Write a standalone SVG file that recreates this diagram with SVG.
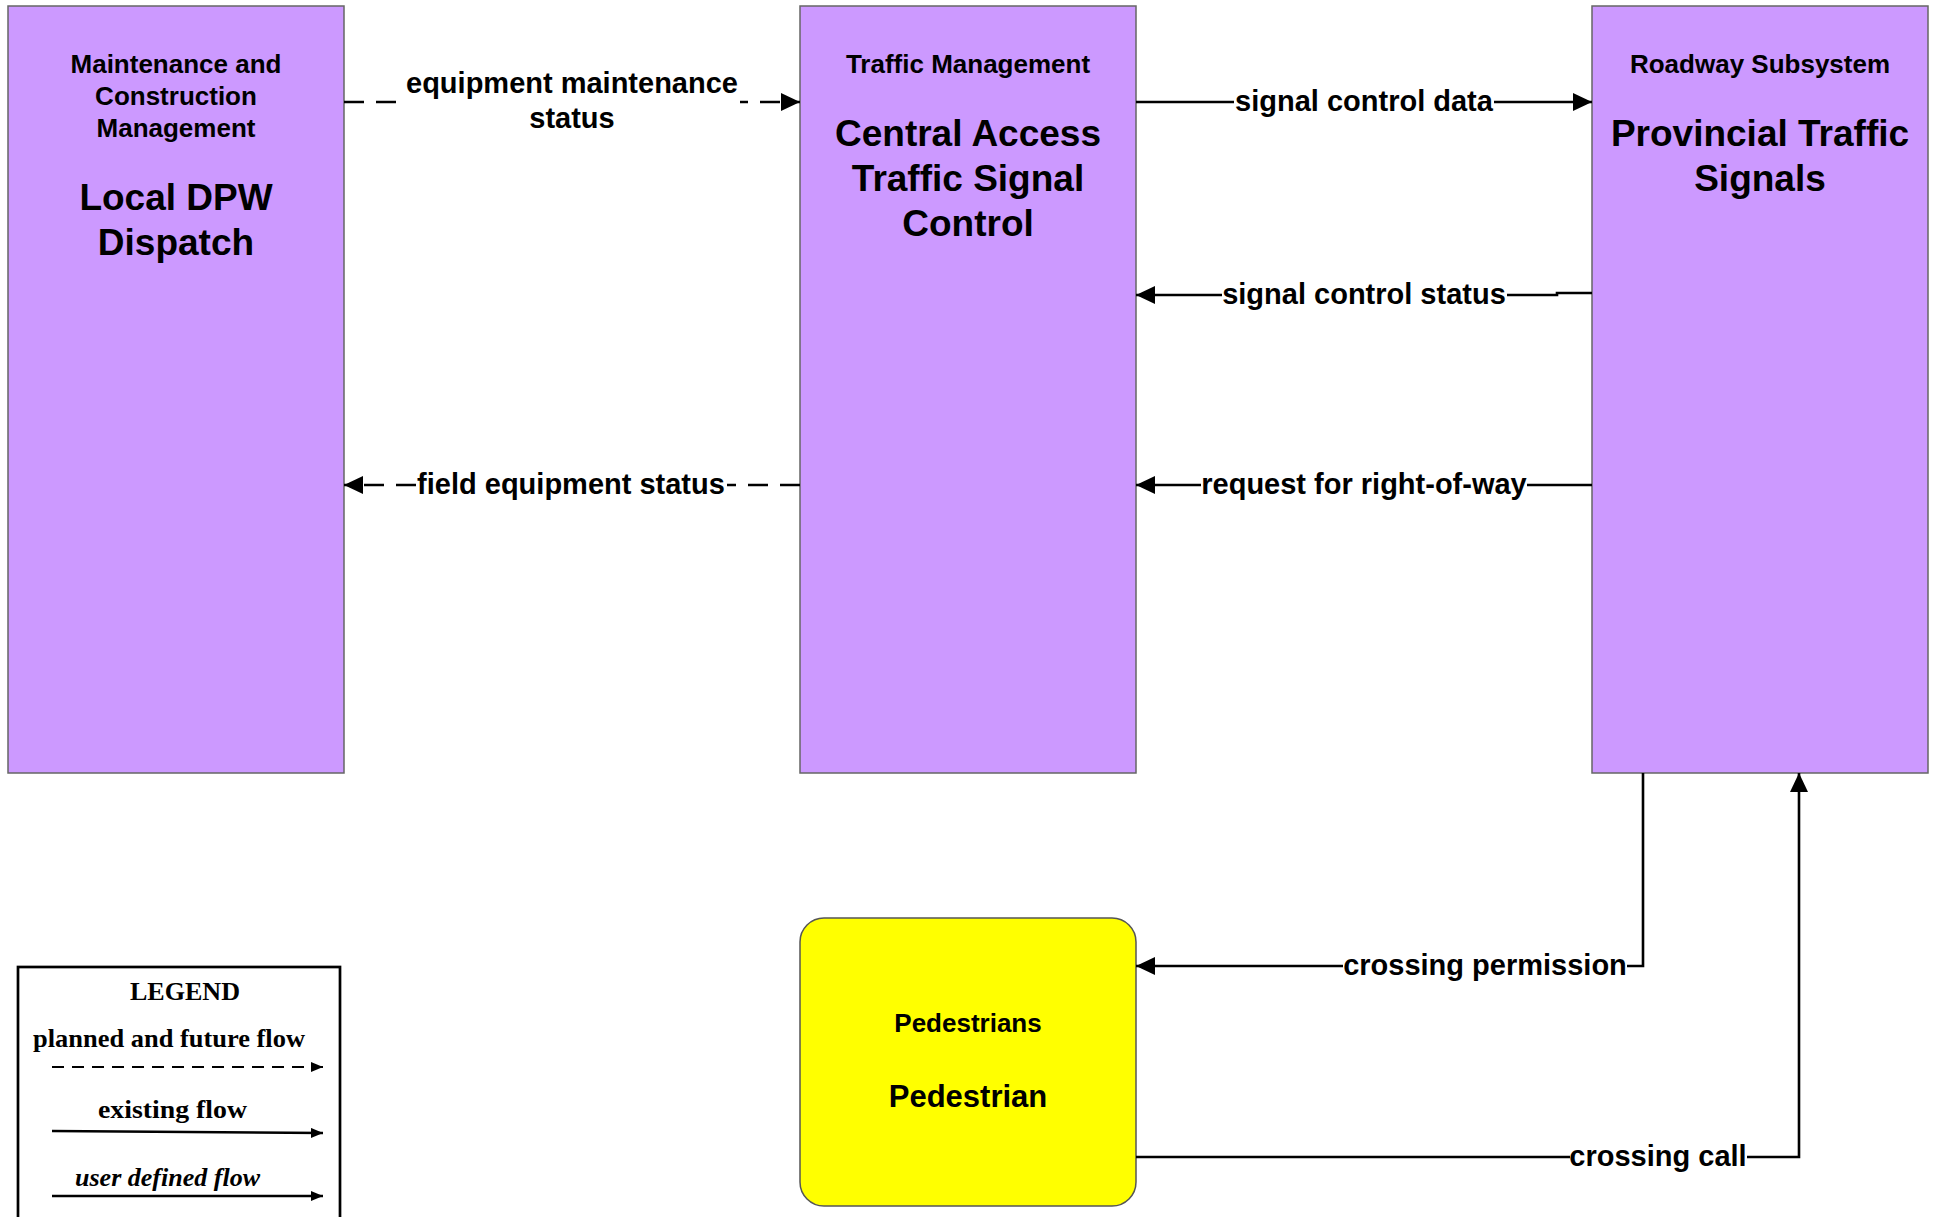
<svg xmlns="http://www.w3.org/2000/svg" width="1937" height="1217" viewBox="0 0 1937 1217">
<style>
.box{fill:#CC99FF;stroke:#666666;stroke-width:1.5}
.ped{fill:#FFFF00;stroke:#555555;stroke-width:1.5}
.hdr{font-family:"Liberation Sans",Arial,sans-serif;font-weight:bold;font-size:26px;text-anchor:middle;fill:#000}
.ttl{font-family:"Liberation Sans",Arial,sans-serif;font-weight:bold;font-size:37px;text-anchor:middle;fill:#000}
.lbl{font-family:"Liberation Sans",Arial,sans-serif;font-weight:bold;font-size:29px;text-anchor:middle;fill:#000}
.flow{fill:none;stroke:#000;stroke-width:2.6}
.dash{stroke-dasharray:20 12}
.bg{fill:#fff}
.leg{font-family:"Liberation Serif","Times New Roman",serif;font-weight:bold;font-size:26px;fill:#000}
</style>
<defs>
<marker id="arr" markerUnits="userSpaceOnUse" markerWidth="19" markerHeight="18" refX="19" refY="9" orient="auto">
<path d="M0,0 L19,9 L0,18 Z" fill="#000"/>
</marker>
<marker id="arrs" markerUnits="userSpaceOnUse" markerWidth="12" markerHeight="12" refX="12" refY="5" orient="auto">
<path d="M0,0 L12,5 L0,10 Z" fill="#000"/>
</marker>
</defs>
<rect width="1937" height="1217" fill="#fff"/>

<g id="node-local-dpw">
<rect class="box" x="8" y="6" width="336" height="767"/>
<text class="hdr" x="176" y="73">Maintenance and</text>
<text class="hdr" x="176" y="105">Construction</text>
<text class="hdr" x="176" y="137">Management</text>
<text class="ttl" x="176" y="210">Local DPW</text>
<text class="ttl" x="176" y="255">Dispatch</text>
</g>

<g id="node-central-access">
<rect class="box" x="800" y="6" width="336" height="767"/>
<text class="hdr" x="968" y="73">Traffic Management</text>
<text class="ttl" x="968" y="146">Central Access</text>
<text class="ttl" x="968" y="191">Traffic Signal</text>
<text class="ttl" x="968" y="236">Control</text>
</g>

<g id="node-provincial-signals">
<rect class="box" x="1592" y="6" width="336" height="767"/>
<text class="hdr" x="1760" y="73">Roadway Subsystem</text>
<text class="ttl" x="1760" y="146">Provincial Traffic</text>
<text class="ttl" x="1760" y="191">Signals</text>
</g>

<g id="node-pedestrian">
<rect class="ped" x="800" y="918" width="336" height="288" rx="24" ry="24"/>
<text class="hdr" x="968" y="1032">Pedestrians</text>
<text class="ttl" x="968" y="1107" style="font-size:31px">Pedestrian</text>
</g>

<g id="connectors">
<path class="flow dash" d="M344,102 H800" marker-end="url(#arr)"/>
<rect class="bg" x="397" y="68" width="343" height="68"/>
<text class="lbl" x="572" y="93">equipment maintenance</text>
<text class="lbl" x="572" y="128">status</text>

<path class="flow" d="M1136,102 H1592" marker-end="url(#arr)"/>
<rect class="bg" x="1234" y="88" width="260" height="30"/>
<text class="lbl" x="1364" y="111">signal control data</text>

<path class="flow" d="M1592,293 H1557 V295 H1136" marker-end="url(#arr)"/>
<rect class="bg" x="1222" y="281" width="285" height="30"/>
<text class="lbl" x="1364" y="304">signal control status</text>

<path class="flow" d="M1592,485 H1136" marker-end="url(#arr)"/>
<rect class="bg" x="1201" y="471" width="326" height="30"/>
<text class="lbl" x="1364" y="494">request for right-of-way</text>

<path class="flow dash" d="M800,485 H344" marker-end="url(#arr)"/>
<rect class="bg" x="416" y="471" width="311" height="30"/>
<text class="lbl" x="571" y="494">field equipment status</text>

<path class="flow" d="M1643,773 V966 H1136" marker-end="url(#arr)"/>
<rect class="bg" x="1343" y="952" width="284" height="30"/>
<text class="lbl" x="1485" y="975">crossing permission</text>

<path class="flow" d="M1136,1157 H1799 V773" marker-end="url(#arr)"/>
<rect class="bg" x="1570" y="1143" width="177" height="30"/>
<text class="lbl" x="1658" y="1166">crossing call</text>
</g>

<g id="legend">
<rect x="18" y="967" width="322" height="262" fill="#fff" stroke="#000" stroke-width="2.7"/>
<text class="leg" x="130" y="1000" textLength="110" lengthAdjust="spacingAndGlyphs">LEGEND</text>
<text class="leg" x="33" y="1047" textLength="272" lengthAdjust="spacingAndGlyphs">planned and future flow</text>
<path d="M52,1067 H323" stroke="#000" stroke-width="2.2" stroke-dasharray="12 8" fill="none" marker-end="url(#arrs)"/>
<text class="leg" x="98" y="1118" textLength="149" lengthAdjust="spacingAndGlyphs">existing flow</text>
<path d="M52,1131 L323,1133" stroke="#000" stroke-width="2.5" fill="none" marker-end="url(#arrs)"/>
<text class="leg" x="75" y="1186" textLength="185" lengthAdjust="spacingAndGlyphs" font-style="italic">user defined flow</text>
<path d="M52,1196 H323" stroke="#000" stroke-width="2.5" fill="none" marker-end="url(#arrs)"/>
</g>
</svg>
